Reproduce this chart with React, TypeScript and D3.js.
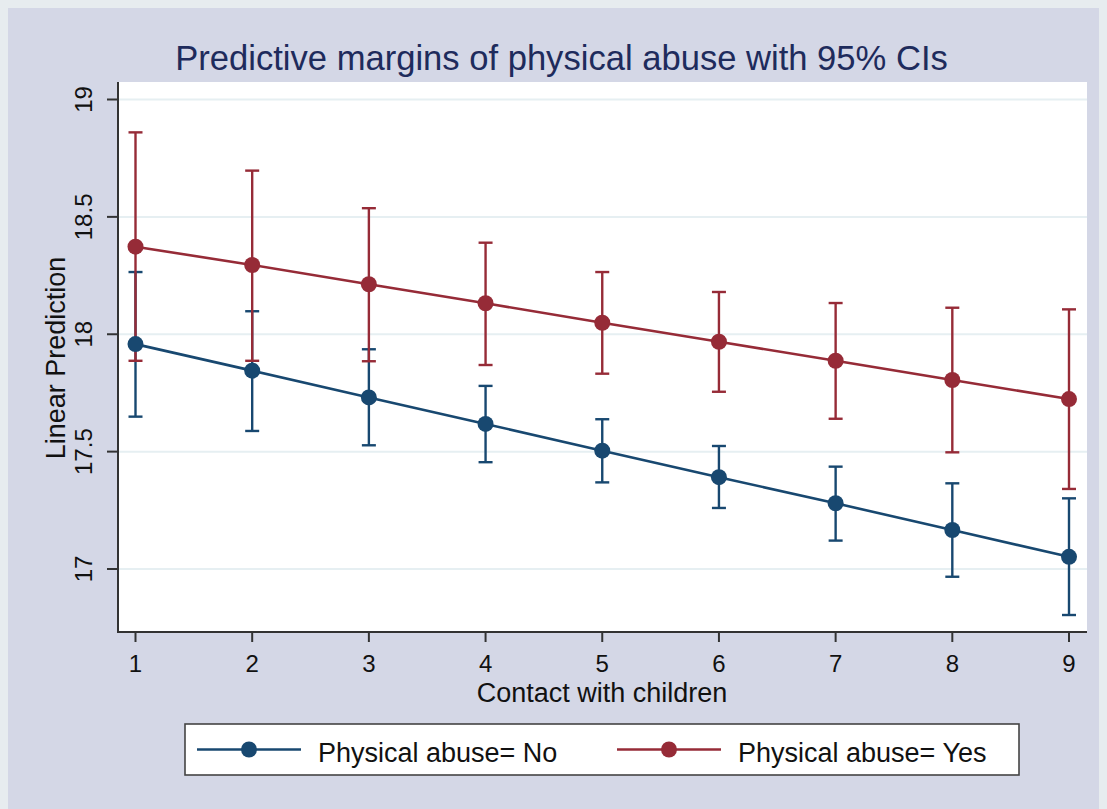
import React, { useEffect } from "react";
import * as d3 from "d3";

const categories = [1, 2, 3, 4, 5, 6, 7, 8, 9];
const noMean = [17.958, 17.845, 17.731, 17.618, 17.504, 17.391, 17.28, 17.166, 17.052];
const noLower = [17.649, 17.588, 17.527, 17.455, 17.369, 17.26, 17.121, 16.967, 16.804];
const noUpper = [18.265, 18.098, 17.936, 17.78, 17.638, 17.524, 17.436, 17.365, 17.301];
const yesMean = [18.373, 18.295, 18.213, 18.132, 18.049, 17.968, 17.887, 17.805, 17.724];
const yesLower = [17.887, 17.887, 17.885, 17.869, 17.832, 17.755, 17.64, 17.497, 17.341];
const yesUpper = [18.86, 18.697, 18.537, 18.39, 18.265, 18.18, 18.133, 18.113, 18.106];
const yTicks = [17, 17.5, 18, 18.5, 19];
const yTickLabels = ["17", "17.5", "18", "18.5", "19"];
const seriesNames = ["Physical abuse= No", "Physical abuse= Yes"];

const BLUE = "#184870";
const RED = "#962b37";
const FONT = "'Liberation Sans', Arial, Helvetica, sans-serif";

export default function App() {
  useEffect(() => {
    document.body.style.background = "#e7ecef";
    document.documentElement.style.overflow = "hidden";
  }, []);

  const W = 1099;
  const H = 801;
  const off = 8; // svg offset in page
  const px = (v: number) => v - off;

  const plot = { left: px(118), right: px(1087), top: px(82), bottom: px(632) };
  const x = d3.scaleLinear().domain([1, 9]).range([px(135.5), px(1069)]);
  const y = d3.scaleLinear().domain([17, 19]).range([px(569), px(99.5)]);

  const series = [
    { name: seriesNames[0], color: BLUE, mean: noMean, lo: noLower, hi: noUpper },
    { name: seriesNames[1], color: RED, mean: yesMean, lo: yesLower, hi: yesUpper },
  ];

  const line = d3
    .line<[number, number]>()
    .x((d) => x(d[0]))
    .y((d) => y(d[1]));

  const capW = 7;

  const legend = { left: px(185), right: px(1019), top: px(724), bottom: px(775) };
  const legendItems = [
    { x0: px(197), x1: px(301), tx: px(318) },
    { x0: px(617), x1: px(721), tx: px(738) },
  ];
  const legendY = (legend.top + legend.bottom) / 2;

  return (
    <svg width={W} height={H} style={{ display: "block" }} fontFamily={FONT}>
      <rect x={0} y={0} width={W} height={H} fill="#d4d7e6" />
      <rect
        x={plot.left}
        y={plot.top}
        width={plot.right - plot.left}
        height={plot.bottom - plot.top}
        fill="#ffffff"
      />
      <text x={px(561.5)} y={px(70)} textAnchor="middle" fontSize={34.6} fill="#1e2b5c">
        Predictive margins of physical abuse with 95% CIs
      </text>

      {yTicks.map((t) => (
        <line
          key={"g" + t}
          x1={plot.left}
          x2={plot.right}
          y1={y(t)}
          y2={y(t)}
          stroke="#e6eff2"
          strokeWidth={2}
        />
      ))}

      {series.map((s) => (
        <g key={s.name}>
          {categories.map((c, i) => (
            <g key={c}>
              <line x1={x(c)} x2={x(c)} y1={y(s.lo[i])} y2={y(s.hi[i])} stroke={s.color} strokeWidth={2.4} />
              <line x1={x(c) - capW} x2={x(c) + capW} y1={y(s.lo[i])} y2={y(s.lo[i])} stroke={s.color} strokeWidth={2.4} />
              <line x1={x(c) - capW} x2={x(c) + capW} y1={y(s.hi[i])} y2={y(s.hi[i])} stroke={s.color} strokeWidth={2.4} />
            </g>
          ))}
        </g>
      ))}
      {series.map((s) => (
        <g key={s.name + "l"}>
          <path
            d={line(categories.map((c, i) => [c, s.mean[i]] as [number, number])) || ""}
            fill="none"
            stroke={s.color}
            strokeWidth={2.6}
          />
          {categories.map((c, i) => (
            <circle key={c} cx={x(c)} cy={y(s.mean[i])} r={8} fill={s.color} />
          ))}
        </g>
      ))}

      <line x1={plot.left} x2={plot.left} y1={plot.top} y2={plot.bottom + 1} stroke="#333333" strokeWidth={2} />
      <line x1={plot.left - 1} x2={plot.right} y1={plot.bottom} y2={plot.bottom} stroke="#333333" strokeWidth={2} />
      {yTicks.map((t, i) => (
        <g key={"yt" + t}>
          <line x1={plot.left - 11} x2={plot.left} y1={y(t)} y2={y(t)} stroke="#333333" strokeWidth={2} />
          <text
            transform={`translate(${px(92)},${y(t)}) rotate(-90)`}
            textAnchor="middle"
            fontSize={24}
            fill="#111"
          >
            {yTickLabels[i]}
          </text>
        </g>
      ))}
      {categories.map((c) => (
        <g key={"xt" + c}>
          <line x1={x(c)} x2={x(c)} y1={plot.bottom} y2={plot.bottom + 10} stroke="#333333" strokeWidth={2} />
          <text x={x(c)} y={px(672)} textAnchor="middle" fontSize={24} fill="#111">
            {c}
          </text>
        </g>
      ))}
      <text x={px(602)} y={px(702)} textAnchor="middle" fontSize={27} fill="#111">
        Contact with children
      </text>
      <text
        transform={`translate(${px(65)},${px(358)}) rotate(-90)`}
        textAnchor="middle"
        fontSize={27}
        fill="#111"
      >
        Linear Prediction
      </text>

      <rect
        x={legend.left}
        y={legend.top}
        width={legend.right - legend.left}
        height={legend.bottom - legend.top}
        fill="#ffffff"
        stroke="#444444"
        strokeWidth={1.6}
      />
      {series.map((s, i) => (
        <g key={"lg" + i}>
          <line x1={legendItems[i].x0} x2={legendItems[i].x1} y1={legendY} y2={legendY} stroke={s.color} strokeWidth={2.6} />
          <circle cx={(legendItems[i].x0 + legendItems[i].x1) / 2} cy={legendY} r={8} fill={s.color} />
          <text x={legendItems[i].tx} y={px(762)} fontSize={27} fill="#111">
            {s.name}
          </text>
        </g>
      ))}
    </svg>
  );
}
